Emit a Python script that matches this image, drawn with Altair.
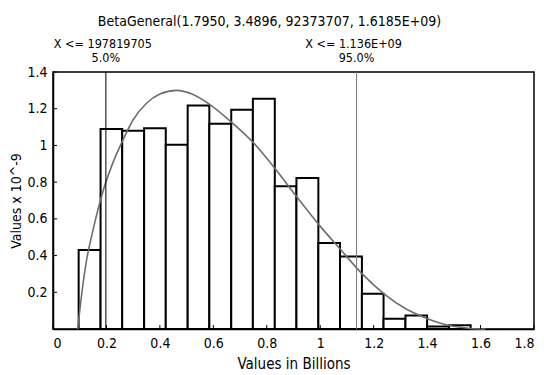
import altair as alt
import pandas as pd

FONT = "DejaVu Sans Condensed"

# histogram (values in billions, density x 10^-9)
bin_start = [0.096, 0.178, 0.259, 0.341, 0.422, 0.504, 0.585, 0.667, 0.748,
             0.830, 0.911, 0.993, 1.074, 1.156, 1.237, 1.319, 1.400, 1.482]
bin_end = [0.178, 0.259, 0.341, 0.422, 0.504, 0.585, 0.667, 0.748, 0.830,
           0.911, 0.993, 1.074, 1.156, 1.237, 1.319, 1.400, 1.482, 1.563]
density = [0.43, 1.089, 1.080, 1.093, 1.004, 1.218, 1.118, 1.194, 1.254,
           0.777, 0.822, 0.468, 0.395, 0.192, 0.056, 0.074, 0.014, 0.020]

# fitted BetaGeneral curve
curve_x = [0.0924, 0.11, 0.125, 0.15, 0.183, 0.22, 0.262, 0.30, 0.35, 0.40,
           0.462, 0.52, 0.59, 0.673, 0.753, 0.833, 0.912, 0.994, 1.078,
           1.157, 1.24, 1.32, 1.404, 1.479, 1.563, 1.6185]
curve_y = [0.0, 0.22, 0.37, 0.54, 0.73, 0.89, 1.03, 1.14, 1.23, 1.28,
           1.30, 1.28, 1.22, 1.12, 1.01, 0.87, 0.72, 0.57, 0.43,
           0.30, 0.19, 0.11, 0.055, 0.02, 0.003, 0.0]

# quantile markers
q_x = [0.197819705, 1.136]
q_top = ["X <= 197819705", "X <= 1.136E+09"]
q_pct = ["5.0%", "95.0%"]
q_color = ["#000000", "#777777"]

x_ticks = [0, 0.2, 0.4, 0.6, 0.8, 1.0, 1.2, 1.4, 1.6, 1.8]
y_ticks = [0.2, 0.4, 0.6, 0.8, 1.0, 1.2, 1.4]

W, H = 481, 257

hist = pd.DataFrame({"x0": bin_start, "x1": bin_end, "y": density})
curve = pd.DataFrame({"x": curve_x, "y": curve_y})
quant = pd.DataFrame({"x": q_x, "top": q_top, "pct": q_pct, "c": q_color})
xt = pd.DataFrame({"v": x_ticks})
yt = pd.DataFrame({"v": y_ticks})

xs = alt.Scale(domain=[0, 1.8], nice=False, zero=True)
ys = alt.Scale(domain=[0, 1.4], nice=False)

xaxis = alt.Axis(values=x_ticks, format="~g", title="Values in Billions",
                 ticks=False, labelPadding=7, titlePadding=6, grid=False)
yaxis = alt.Axis(values=y_ticks, format="~g", title="Values x 10^-9",
                 ticks=False, labelPadding=6, titlePadding=3, titleFontSize=14,
                 grid=False)

bars = alt.Chart(hist).mark_rect(fill="white", stroke="black", strokeWidth=2).encode(
    x=alt.X("x0:Q", scale=xs, axis=xaxis),
    x2="x1:Q",
    y=alt.Y("y:Q", scale=ys, axis=yaxis),
    y2=alt.datum(0),
)

line = alt.Chart(curve).mark_line(color="#6e6e6e", strokeWidth=1.6, interpolate="monotone").encode(
    x=alt.X("x:Q", scale=xs), y=alt.Y("y:Q", scale=ys)
)

qrule = alt.Chart(quant).mark_rule(strokeWidth=1).encode(
    x=alt.X("x:Q", scale=xs), y=alt.value(0), y2=alt.value(H),
    color=alt.Color("c:N", scale=None),
)

qtxt1 = alt.Chart(quant).mark_text(font=FONT, fontSize=12.5, baseline="middle", dx=-3).encode(
    x=alt.X("x:Q", scale=xs), y=alt.value(-28), text="top:N"
)
qtxt2 = alt.Chart(quant).mark_text(font=FONT, fontSize=12.5, baseline="middle").encode(
    x=alt.X("x:Q", scale=xs), y=alt.value(-14), text="pct:N"
)

xtick = alt.Chart(xt).mark_rule(color="black", strokeWidth=1).encode(
    x=alt.X("v:Q", scale=xs), y=alt.value(H), y2=alt.value(H - 4)
)
ytick = alt.Chart(yt).mark_rule(color="black", strokeWidth=1).encode(
    y=alt.Y("v:Q", scale=ys), x=alt.value(0), x2=alt.value(4)
)

chart = alt.layer(bars, line, qrule, qtxt1, qtxt2, xtick, ytick).properties(
    width=W, height=H,
    title=alt.Title("BetaGeneral(1.7950, 3.4896, 92373707, 1.6185E+09)",
                    font=FONT, fontSize=14, fontWeight="normal", anchor="middle",
                    dx=-24, offset=9),
    autosize=alt.AutoSizeParams(type="none"),
    padding={"left": 45, "top": 64, "right": 2, "bottom": 45},
    background="white",
).configure_view(stroke="black", strokeWidth=1.5).configure_axis(
    domainColor="black", domainWidth=1.5, labelFont=FONT, titleFont=FONT,
    labelFontSize=14, titleFontSize=15, titleFontWeight="normal", labelColor="black",
    titleColor="black",
)

chart.save("out.html", embed_options={"renderer": "svg", "actions": False})
